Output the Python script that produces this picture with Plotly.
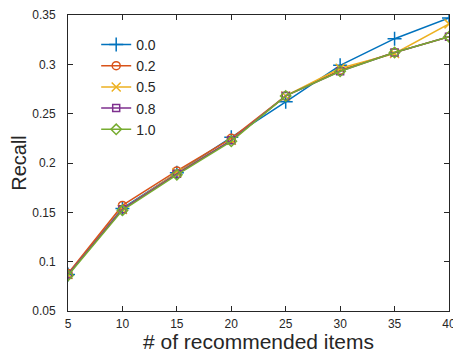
import plotly.graph_objects as go

x_items = [5, 10, 15, 20, 25, 30, 35, 40]
recall_00 = [0.087, 0.154, 0.190, 0.226, 0.262, 0.299, 0.326, 0.347]
recall_02 = [0.088, 0.157, 0.192, 0.225, 0.268, 0.294, 0.312, 0.328]
recall_05 = [0.087, 0.153, 0.190, 0.223, 0.268, 0.296, 0.311, 0.341]
recall_08 = [0.087, 0.153, 0.189, 0.223, 0.268, 0.293, 0.312, 0.328]
recall_10 = [0.086, 0.152, 0.188, 0.222, 0.268, 0.293, 0.312, 0.328]

names = ["0.0", "0.2", "0.5", "0.8", "1.0"]
series = [recall_00, recall_02, recall_05, recall_08, recall_10]
colors = ["#0072BD", "#D95319", "#EDB120", "#7E2F8E", "#77AC30"]
symbols = ["cross-thin-open", "circle-open", "x-thin-open", "square-open", "diamond-open"]
sizes = [10, 8, 9, 7, 8]

FONT = "Liberation Sans, Arial, sans-serif"
INK = "#262626"

fig = go.Figure()
for n, s, c, m, sz in zip(names, series, colors, symbols, sizes):
    fig.add_trace(go.Scatter(
        x=x_items, y=s, name=n, mode="lines+markers",
        line=dict(color=c, width=1.5),
        marker=dict(symbol=m, size=sz, color=c, line=dict(color=c, width=1.5)),
    ))

axis_common = dict(
    showgrid=False, zeroline=False, showline=True, mirror="ticks",
    linecolor=INK, linewidth=1, ticks="inside", ticklen=5,
    tickcolor=INK, tickfont=dict(family=FONT, size=12, color=INK),
    automargin=False,
)
fig.update_xaxes(range=[5, 40], tickvals=[5, 10, 15, 20, 25, 30, 35, 40],
                 ticklabelstandoff=2,
                 title=dict(text="# of recommended items", font=dict(family=FONT, size=21, color=INK), standoff=6),
                 **axis_common)
fig.update_yaxes(range=[0.05, 0.35], tickvals=[0.05, 0.1, 0.15, 0.2, 0.25, 0.3, 0.35],
                 ticktext=["0.05", "0.1", "0.15", "0.2", "0.25", "0.3", "0.35"],
                 ticklabelstandoff=9,
                 title=dict(text="Recall", font=dict(family=FONT, size=20, color=INK), standoff=10),
                 **axis_common)

# page body adds an 8px offset, so the figure is 8px smaller than the window
fig.update_layout(
    width=453, height=345,
    margin=dict(l=60, r=12, t=7, b=42),
    paper_bgcolor="white", plot_bgcolor="white",
    showlegend=True,
    legend=dict(x=0.074, y=0.953, xanchor="left", yanchor="top",
                bgcolor="rgba(0,0,0,0)", borderwidth=0,
                font=dict(family=FONT, size=14, color=INK),
                tracegroupgap=0, itemwidth=30),
)

fig.write_html("out.html")
